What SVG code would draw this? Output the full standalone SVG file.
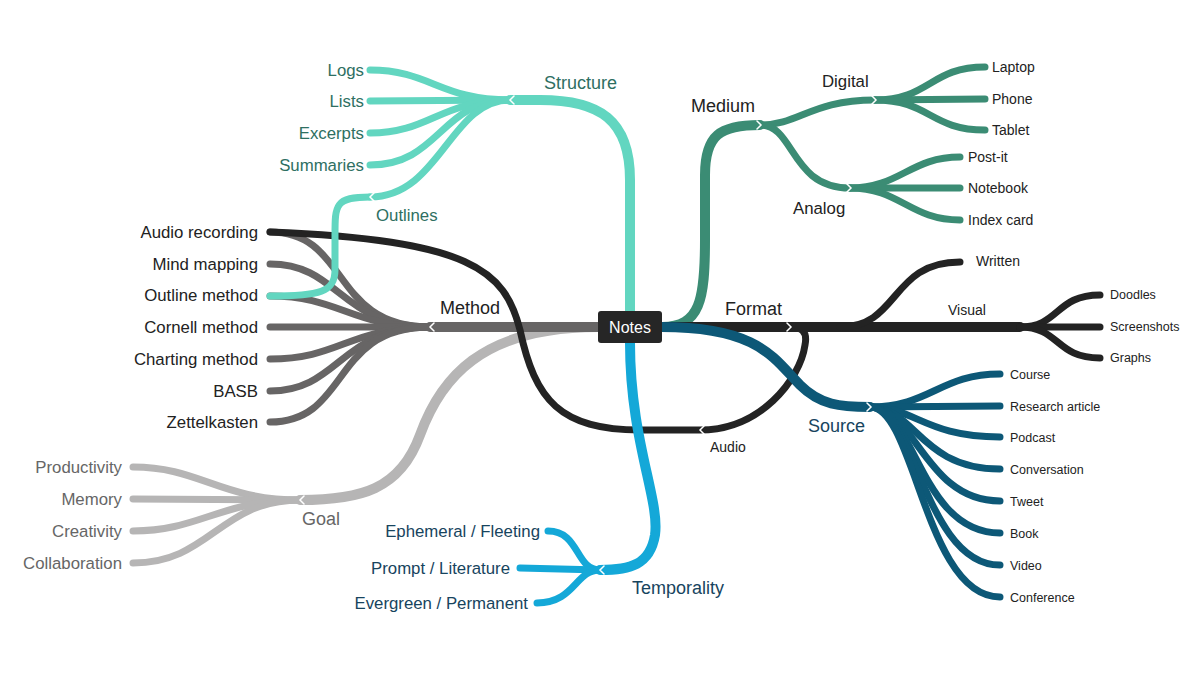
<svg xmlns="http://www.w3.org/2000/svg" width="1200" height="675" viewBox="0 0 1200 675">
<style>
text{font-family:"Liberation Sans",Arial,sans-serif}
path{fill:none;stroke-linecap:round}
.st{stroke:#62d6c0}.md{stroke:#3b8c74}.me{stroke:#676565}.bk{stroke:#232323}.go{stroke:#b6b5b5}.tp{stroke:#14a8d8}.so{stroke:#0d5877}
.w10{stroke-width:10}.w7{stroke-width:7}
.l1{font-size:18px}.l2{font-size:16.8px}.l3{font-size:14px}.l4{font-size:12.5px}
.ct{fill:#2e6f62}.cm{fill:#222}.cg{fill:#666}.cb{fill:#17445e}
.chev{fill:none;stroke:#fff;stroke-width:1.5}
</style>
<rect width="1200" height="675" fill="#fff"/>
<g id="connectors">
<path class="go w10" d="M598,327 C480,327 440,380 420,435 C400,490 360,500 300,500"/>
<path class="go w7" d="M300,500 C220,500 200,467 133,467"/>
<path class="go w7" d="M300,500 L133,499"/>
<path class="go w7" d="M300,500 C220,500 200,531 133,531"/>
<path class="go w7" d="M300,500 C220,500 210,563 133,563"/>
<path class="me w10" d="M598,327 L430,327"/>
<path class="me w7" d="M430,327 C330,327 350,232 270,232"/>
<path class="me w7" d="M430,327 C340,327 340,264 270,264"/>
<path class="me w7" d="M430,327 C350,327 340,296 270,296"/>
<path class="me w7" d="M430,327 L270,327"/>
<path class="me w7" d="M430,327 C350,327 340,359 270,359"/>
<path class="me w7" d="M430,327 C340,327 340,391 270,391"/>
<path class="me w7" d="M430,327 C330,327 350,422 270,422"/>
<path class="bk w7" d="M270,232 C470,240 505,270 520,330 C535,400 560,430 640,430 L700,430 C760,430 800,380 805,345 C808,330 800,327 790,327"/>
<path class="st w10" d="M630,311 L630,180 C630,120 600,100 540,100 L510,100"/>
<path class="st w7" d="M510,100 C440,100 430,70 370,70"/>
<path class="st w7" d="M510,100 L370,101"/>
<path class="st w7" d="M510,100 C440,100 430,133 370,133"/>
<path class="st w7" d="M510,100 C440,100 440,165 370,165"/>
<path class="st w7" d="M510,100 C450,100 440,197 370,197"/>
<path class="st w7" d="M370,197 C335,197 335,205 335,235 L335,270 C335,292 320,296 270,296"/>
<path class="tp w10" d="M630,343 C630,440 660,500 655,535 C650,565 630,570 600,570"/>
<path class="tp w7" d="M600,570 C575,570 580,531 548,531"/>
<path class="tp w7" d="M600,570 L520,568"/>
<path class="tp w7" d="M600,570 C575,570 575,603 537,603"/>
<path class="md w10" d="M662,327 C700,327 705,300 705,240 L705,175 C705,135 720,125 760,125"/>
<path class="md w7" d="M760,125 C800,125 810,100 875,100"/>
<path class="md w7" d="M875,100 C930,100 930,67 985,67"/>
<path class="md w7" d="M875,100 L985,99"/>
<path class="md w7" d="M875,100 C930,100 930,130 985,130"/>
<path class="md w7" d="M760,125 C795,125 790,188 850,188"/>
<path class="md w7" d="M850,188 C900,188 910,157 960,157"/>
<path class="md w7" d="M850,188 L960,188"/>
<path class="md w7" d="M850,188 C900,188 910,220 960,220"/>
<path class="bk w10" d="M662,327 L1020,327"/>
<path class="bk w7" d="M840,327 C900,327 890,262 960,262"/>
<path class="bk w7" d="M1020,327 C1060,327 1055,295 1100,295"/>
<path class="bk w7" d="M1020,327 L1100,327"/>
<path class="bk w7" d="M1020,327 C1060,327 1055,358 1100,358"/>
<path class="so w10" d="M662,327 C760,327 775,360 800,385 C820,405 840,407 870,407"/>
<path class="so w7" d="M870,407 C930,407 940,374 1000,374"/>
<path class="so w7" d="M870,407 L1000,406"/>
<path class="so w7" d="M870,407 C915,407 925,437 1000,437"/>
<path class="so w7" d="M870,407 C915,407 920,469 1000,469"/>
<path class="so w7" d="M870,407 C915,407 925,501 1000,501"/>
<path class="so w7" d="M870,407 C915,407 920,533 1000,533"/>
<path class="so w7" d="M870,407 C915,407 925,565 1000,565"/>
<path class="so w7" d="M870,407 C915,407 925,597 1000,597"/>
<path class="chev" d="M514,96 L510,100 L514,104 M374,193 L370,197 L374,201 M434,323 L430,327 L434,331 M304,496 L300,500 L304,504 M604,566 L600,570 L604,574 M704,426 L700,430 L704,434 M757,121 L761,125 L757,129 M872,96 L876,100 L872,104 M847,184 L851,188 L847,192 M787,323 L791,327 L787,331 M867,403 L871,407 L867,411"/>
</g>
<g id="notes">
<rect x="598" y="311" width="64" height="32" rx="3" fill="#262626"/>
<path d="M624,311 L630,304 L636,311 Z M624,343 L630,350 L636,343 Z M598,322 L592,327 L598,332 Z M662,322 L668,327 L662,332 Z" fill="#262626"/>
<text x="630" y="333" text-anchor="middle" font-size="16" fill="#fff">Notes</text>
</g>
<g id="structure"><text class="l1 ct" x="544" y="89">Structure</text>
<text class="l2 ct" x="364" y="76" text-anchor="end">Logs</text>
<text class="l2 ct" x="364" y="107" text-anchor="end">Lists</text>
<text class="l2 ct" x="364" y="139" text-anchor="end">Excerpts</text>
<text class="l2 ct" x="364" y="171" text-anchor="end">Summaries</text>
<text class="l2 ct" x="376" y="221">Outlines</text></g>
<g id="method"><text class="l1 cm" x="440" y="314">Method</text>
<text class="l2 cm" x="258" y="238" text-anchor="end">Audio recording</text>
<text class="l2 cm" x="258" y="270" text-anchor="end">Mind mapping</text>
<text class="l2 cm" x="258" y="301" text-anchor="end">Outline method</text>
<text class="l2 cm" x="258" y="333" text-anchor="end">Cornell method</text>
<text class="l2 cm" x="258" y="365" text-anchor="end">Charting method</text>
<text class="l2 cm" x="258" y="397" text-anchor="end">BASB</text>
<text class="l2 cm" x="258" y="428" text-anchor="end">Zettelkasten</text></g>
<g id="goal"><text class="l1 cg" x="302" y="525">Goal</text>
<text class="l2 cg" x="122" y="473" text-anchor="end">Productivity</text>
<text class="l2 cg" x="122" y="505" text-anchor="end">Memory</text>
<text class="l2 cg" x="122" y="537" text-anchor="end">Creativity</text>
<text class="l2 cg" x="122" y="569" text-anchor="end">Collaboration</text></g>
<g id="temporality"><text class="l1 cb" x="632" y="594">Temporality</text>
<text class="l2 cb" x="540" y="537" text-anchor="end">Ephemeral / Fleeting</text>
<text class="l2 cb" x="510" y="574" text-anchor="end">Prompt / Literature</text>
<text class="l2 cb" x="528" y="609" text-anchor="end">Evergreen / Permanent</text></g>
<g id="medium"><text class="l1 cm" x="691" y="112">Medium</text>
<text class="l2 cm" x="822" y="87">Digital</text>
<text class="l3 cm" x="992" y="72">Laptop</text>
<text class="l3 cm" x="992" y="104">Phone</text>
<text class="l3 cm" x="992" y="135">Tablet</text>
<text class="l2 cm" x="793" y="214">Analog</text>
<text class="l3 cm" x="968" y="162">Post-it</text>
<text class="l3 cm" x="968" y="193">Notebook</text>
<text class="l3 cm" x="968" y="225">Index card</text></g>
<g id="format"><text class="l1 cm" x="725" y="315">Format</text>
<text class="l3 cm" x="976" y="266">Written</text>
<text class="l3 cm" x="948" y="315">Visual</text>
<text class="l4 cm" x="1110" y="299">Doodles</text>
<text class="l4 cm" x="1110" y="331">Screenshots</text>
<text class="l4 cm" x="1110" y="362">Graphs</text>
<text class="l3 cm" x="710" y="452">Audio</text></g>
<g id="source"><text class="l1 cb" x="808" y="432">Source</text>
<text class="l4 cm" x="1010" y="379">Course</text>
<text class="l4 cm" x="1010" y="411">Research article</text>
<text class="l4 cm" x="1010" y="442">Podcast</text>
<text class="l4 cm" x="1010" y="474">Conversation</text>
<text class="l4 cm" x="1010" y="506">Tweet</text>
<text class="l4 cm" x="1010" y="538">Book</text>
<text class="l4 cm" x="1010" y="570">Video</text>
<text class="l4 cm" x="1010" y="602">Conference</text></g>
</svg>
